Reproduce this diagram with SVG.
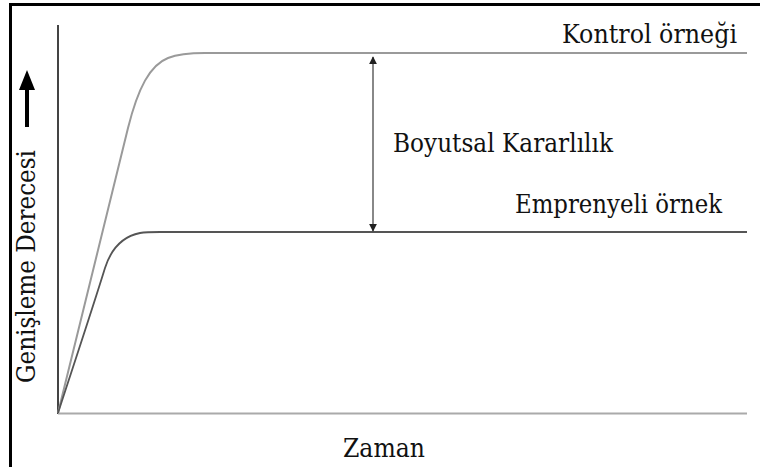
<svg xmlns="http://www.w3.org/2000/svg" width="760" height="467" viewBox="0 0 760 467">
  <defs>
    <style>
      .lbl { font-family: "DejaVu Serif", "Liberation Serif", serif; font-size: 26px; fill: #111; }
      .frame { stroke: #000; stroke-width: 3; fill: none; }
      .axis-y { stroke: #444; stroke-width: 2; fill: none; }
      .axis-x { stroke: #aaa; stroke-width: 2; fill: none; }
      .ctrl { stroke: #9a9a9a; stroke-width: 2; fill: none; }
      .impr { stroke: #555; stroke-width: 1.8; fill: none; }
      .dim { stroke: #888; stroke-width: 2; fill: none; }
    </style>
    <marker id="tip" viewBox="0 0 10 10" refX="9" refY="5" markerWidth="4" markerHeight="4" orient="auto-start-reverse" markerUnits="strokeWidth">
      <path d="M0,0 L10,5 L0,10 z" fill="#222"/>
    </marker>
  </defs>

  <rect width="760" height="467" fill="#fff"/>

  <!-- frame: top and left edges -->
  <path class="frame" d="M10.5,467 V4.5 H760"/>

  <!-- axes -->
  <g id="axes">
    <line class="axis-y" x1="58" y1="25" x2="58" y2="414"/>
    <line class="axis-x" x1="58" y1="413.5" x2="747" y2="413.5"/>
  </g>

  <!-- response curves -->
  <g id="curves">
    <path id="control-curve" class="ctrl" d="M58,413 L128,128 C138,88 150,65 168,58 C178,54 190,53 205,53 L747,53"/>
    <path id="impregnated-curve" class="impr" d="M58,413 C72,370 92,310 105,268 C112,246 125,236 140,233 C146,232 152,232 160,232 L747,232"/>
  </g>

  <!-- dimension arrow between plateaus -->
  <g id="connectors">
    <line class="dim" x1="373" y1="57" x2="373" y2="231" marker-start="url(#tip)" marker-end="url(#tip)"/>
  </g>

  <!-- labels -->
  <g id="label-control"><text class="lbl" x="562" y="43" textLength="175" lengthAdjust="spacingAndGlyphs">Kontrol örneği</text></g>
  <g id="label-stability"><text class="lbl" x="393" y="152" textLength="220" lengthAdjust="spacingAndGlyphs">Boyutsal Kararlılık</text></g>
  <g id="label-impregnated"><text class="lbl" x="515" y="213" textLength="207" lengthAdjust="spacingAndGlyphs">Emprenyeli örnek</text></g>
  <g id="label-time"><text class="lbl" x="343" y="457" textLength="82" lengthAdjust="spacingAndGlyphs">Zaman</text></g>
  <g id="label-swelling">
    <text class="lbl" transform="translate(35,383) rotate(-90)" textLength="233" lengthAdjust="spacingAndGlyphs">Genişleme Derecesi</text>
    <line x1="27" y1="127" x2="27" y2="88" stroke="#000" stroke-width="4"/>
    <path d="M19,90 L27,70 L35,90 z" fill="#000"/>
  </g>
</svg>
